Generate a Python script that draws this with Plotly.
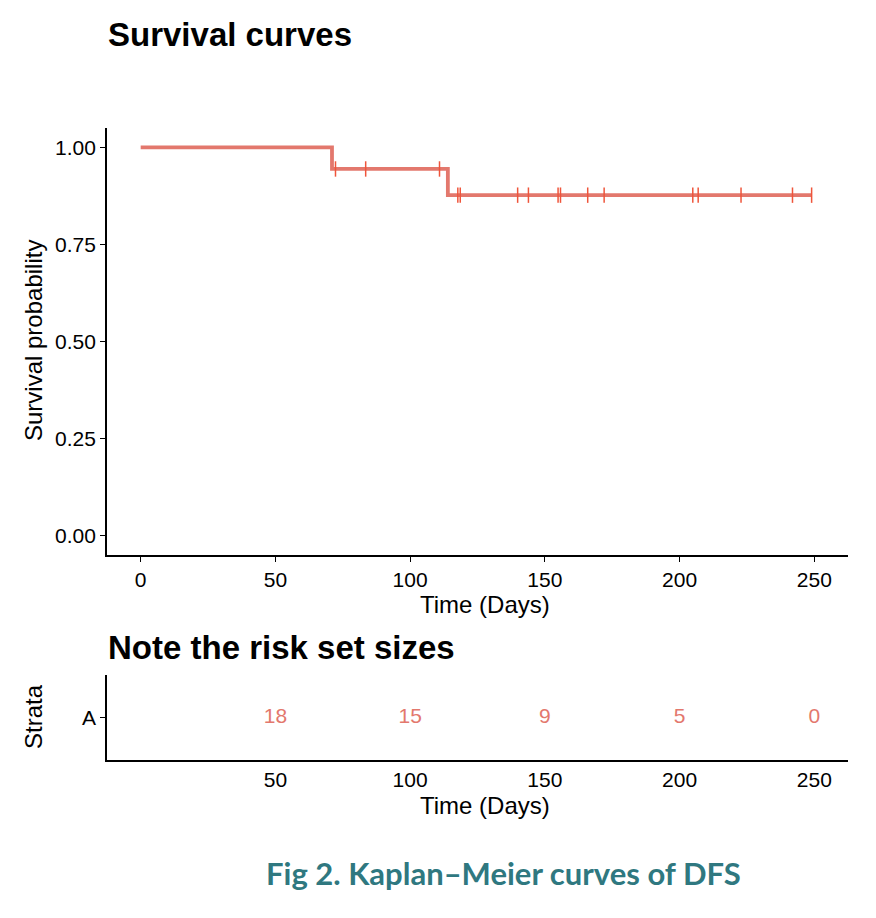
import plotly.graph_objects as go

# ---- data ----
event_times = [71, 114]
censor_times = [72.3, 83.5, 110.9, 117.7, 118.6, 139.9, 143.9, 154.9, 155.8,
                165.9, 172.0, 204.9, 206.9, 222.8, 241.9, 249.0]
n_total = 18
risk_times = [50, 100, 150, 200, 250]
risk_counts = [18, 15, 9, 5, 0]
x_ticks = [0, 50, 100, 150, 200, 250]
y_ticks = [0.0, 0.25, 0.5, 0.75, 1.0]
y_ticklabels = ["0.00", "0.25", "0.50", "0.75", "1.00"]
strata = ["A"]

COL = "#E3786D"
FONT = "Arial"

# ---- Kaplan-Meier estimate ----
times = sorted([(t, 1) for t in event_times] + [(t, 0) for t in censor_times])
at_risk = n_total
s = 1.0
step_x = [0.0]
step_y = [1.0]
cens_x, cens_y = [], []
for t, ev in times:
    if ev == 1:
        s = s * (1 - 1 / at_risk)
        step_x.append(t)
        step_y.append(s)
    else:
        cens_x.append(t)
        cens_y.append(s)
    at_risk -= 1
step_x.append(times[-1][0])
step_y.append(s)

W, H = 876, 918
def fx(px):
    return px / W
def fy(py):
    return (H - py) / H

fig = go.Figure()
fig.add_trace(go.Scatter(x=step_x, y=step_y, mode="lines", line_shape="hv",
                         line=dict(color=COL, width=3.8), showlegend=False,
                         xaxis="x", yaxis="y"))
fig.add_trace(go.Scatter(x=cens_x, y=cens_y, mode="markers",
                         marker=dict(symbol="line-ns-open", size=11,
                                     line=dict(color=COL, width=1.5)),
                         showlegend=False, xaxis="x", yaxis="y"))
fig.add_trace(go.Scatter(x=risk_times, y=[strata[0]] * len(risk_times),
                         mode="text", text=[str(v) for v in risk_counts],
                         textfont=dict(color=COL, size=21, family=FONT),
                         showlegend=False, xaxis="x2", yaxis="y2"))

axis_common = dict(showline=True, linecolor="black", linewidth=1.8,
                   showgrid=False, zeroline=False, automargin=False,
                   tickfont=dict(size=21, color="black", family=FONT),
                   tickcolor="black", ticklen=5, tickwidth=1.4)

title_font = dict(size=33, color="black", family=FONT)
axt_font = dict(size=24, color="black", family=FONT)

fig.update_layout(
    width=W, height=H,
    margin=dict(l=0, r=0, t=0, b=0),
    paper_bgcolor="white", plot_bgcolor="white",
    xaxis=dict(domain=[fx(107), fx(848)], range=[-12.5, 262.5],
               tickvals=x_ticks, ticks="outside", anchor="y",
               ticklabelstandoff=0, **axis_common),
    yaxis=dict(domain=[fy(555), fy(128)], range=[-0.05, 1.05],
               tickvals=y_ticks, ticktext=y_ticklabels, ticks="outside",
               anchor="x", **axis_common),
    xaxis2=dict(domain=[fx(107), fx(848)], range=[-12.5, 262.5],
                tickvals=risk_times, ticks="", anchor="y2",
                **axis_common),
    yaxis2=dict(domain=[fy(760), fy(675)], type="category",
                categoryarray=strata, range=[-1, 1], ticks="outside",
                anchor="x2", **axis_common),
    annotations=[
        dict(text="<b>Survival curves</b>", x=fx(106), y=fy(34), xref="paper",
             yref="paper", xanchor="left", yanchor="middle", showarrow=False,
             font=title_font),
        dict(text="<b>Note the risk set sizes</b>", x=fx(106), y=fy(647),
             xref="paper", yref="paper", xanchor="left", yanchor="middle",
             showarrow=False, font=title_font),
        dict(text="Time (Days)", x=fx(485), y=fy(604), xref="paper",
             yref="paper", xanchor="center", yanchor="middle",
             showarrow=False, font=axt_font),
        dict(text="Survival probability", x=fx(33), y=fy(341), xref="paper",
             yref="paper", xanchor="center", yanchor="middle", textangle=-90,
             showarrow=False, font=axt_font),
        dict(text="Time (Days)", x=fx(485), y=fy(805), xref="paper",
             yref="paper", xanchor="center", yanchor="middle",
             showarrow=False, font=axt_font),
        dict(text="Strata", x=fx(33), y=fy(717), xref="paper",
             yref="paper", xanchor="center", yanchor="middle", textangle=-90,
             showarrow=False, font=axt_font),
        dict(text="<b>Fig 2. Kaplan–Meier curves of DFS</b>", x=fx(503),
             y=fy(873), xref="paper", yref="paper", xanchor="center",
             yanchor="middle", showarrow=False,
             font=dict(size=31, color="#2F7880", family="Lato")),
    ],
)

fig.write_html("out.html")
